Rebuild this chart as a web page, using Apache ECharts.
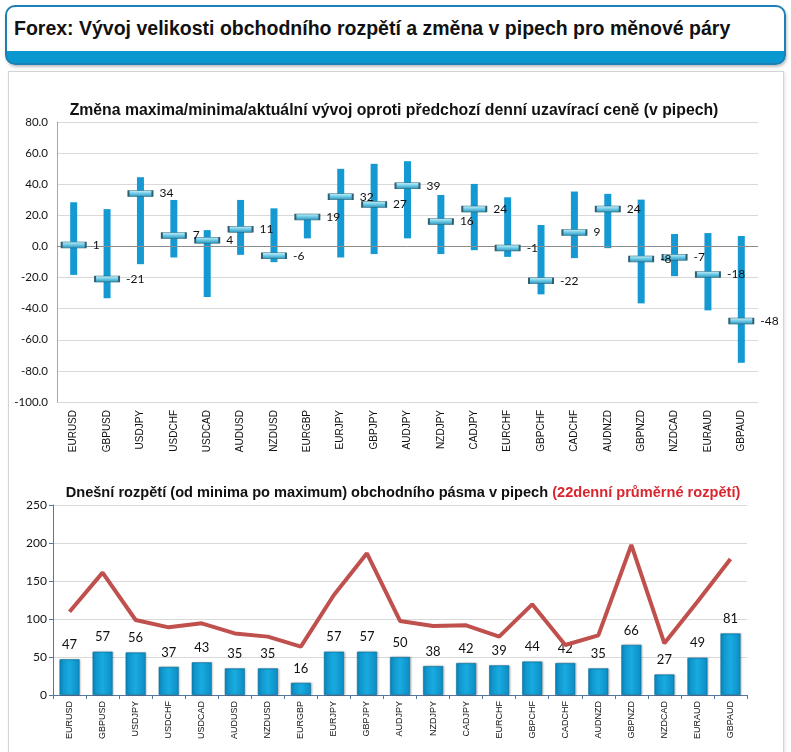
<!DOCTYPE html>
<html>
<head>
<meta charset="utf-8">
<script src="https://cdn.jsdelivr.net/npm/echarts@6/dist/echarts.min.js"></script>
<style>
  html,body{margin:0;padding:0;background:#fff;width:791px;height:752px;overflow:hidden;}
  #header{position:absolute;left:5px;top:5px;width:777px;height:56px;border:2px solid #1c7fb6;border-radius:10px;
    background:linear-gradient(to bottom,#ffffff 0px,#ffffff 44px,#0a98d0 44px,#0a98d0 100%);
    box-shadow:1px 2px 3px rgba(0,0,0,0.25);}
  #header span{position:absolute;left:7px;top:10px;font-family:"Liberation Sans",Arial,sans-serif;font-weight:bold;font-size:19.5px;color:#111;white-space:nowrap;}
  #panel{position:absolute;left:8px;top:71px;width:774px;height:700px;border:1px solid #d4d4d4;box-shadow:1px 1px 3px rgba(0,0,0,0.12);background:#fff;}
  #chart{position:absolute;left:0;top:0;width:791px;height:752px;}
</style>
</head>
<body>
<div id="header"><span>Forex: Vývoj velikosti obchodního rozpětí a změna v pipech pro měnové páry</span></div>
<div id="panel"></div>
<div id="chart"></div>
<script>
const pairs = ['EURUSD','GBPUSD','USDJPY','USDCHF','USDCAD','AUDUSD','NZDUSD','EURGBP','EURJPY','GBPJPY','AUDJPY','NZDJPY','CADJPY','EURCHF','GBPCHF','CADCHF','AUDNZD','GBPNZD','NZDCAD','EURAUD','GBPAUD'];
const dayMax = [28.4, 24, 44.5, 29.9, 10.5, 29.9, 24.5, 20, 49.9, 53.1, 54.8, 33.1, 40.2, 31.6, 13.8, 35.3, 33.8, 30.1, 8, 8.6, 6.7];
const dayMin = [-18.3, -33.3, -11.4, -7.1, -32.5, -5.4, -10.1, 5.2, -7.1, -4.9, 5.2, -4.9, -2.4, -6.7, -30.8, -7.5, -1.1, -36.6, -19.1, -41.1, -74.8];
const current = [1, -21, 34, 7, 4, 11, -6, 19, 32, 27, 39, 16, 24, -1, -22, 9, 24, -8, -7, -18, -48];
const todayRange = [47, 57, 56, 37, 43, 35, 35, 16, 57, 57, 50, 38, 42, 39, 44, 42, 35, 66, 27, 49, 81];
const avgRange22 = [109.6, 161, 98.7, 89, 94.3, 81, 76.8, 63.6, 131.6, 186.4, 97.4, 90.8, 91.7, 76.8, 119.3, 65.8, 78.5, 197.4, 68, 122.8, 179];
const topTicks = {min:-100, max:80, interval:20};
const botTicks = {min:0, max:250, interval:50};

const rangeData = pairs.map((p,i)=>[i, dayMax[i], dayMin[i]]);

const chart = echarts.init(document.getElementById('chart'), null, {renderer:'canvas'});
const lblFont = '"Liberation Sans", Arial, sans-serif';
const numFont = 'Lato, "Liberation Sans", sans-serif';

chart.setOption({
  backgroundColor:'transparent',
  animation:false,
  title:[
    {text:'Změna maxima/minima/aktuální vývoj oproti předchozí denní uzavírací ceně (v pipech)',
     left:389, textAlign:'center', top:98,
     textStyle:{fontFamily:lblFont, fontWeight:'bold', fontSize:15.8, color:'#111'}},
    {text:'{a|Dnešní rozpětí (od minima po maximum) obchodního pásma v pipech }{b|(22denní průměrné rozpětí)}',
     left:398, textAlign:'center', top:480,
     textStyle:{rich:{
       a:{fontFamily:lblFont, fontWeight:'bold', fontSize:14.6, color:'#111'},
       b:{fontFamily:lblFont, fontWeight:'bold', fontSize:14.6, color:'#d9262e'}}}}
  ],
  grid:[
    {left:57, right:33, top:122, height:280},
    {left:53, right:44, top:505, height:190}
  ],
  xAxis:[
    {type:'category', gridIndex:0, data:pairs, boundaryGap:true,
     axisLine:{show:false}, axisTick:{show:false},
     axisLabel:{rotate:90, margin:8, fontFamily:lblFont, fontSize:10, color:'#111', interval:0}},
    {type:'category', gridIndex:1, data:pairs, boundaryGap:true,
     axisLine:{show:true, lineStyle:{color:'#5677a0', width:1}},
     axisTick:{show:true, length:4, lineStyle:{color:'#5677a0'}},
     axisLabel:{rotate:90, margin:6, fontFamily:lblFont, fontSize:9, color:'#111', interval:0}}
  ],
  yAxis:[
    {type:'value', gridIndex:0, min:topTicks.min, max:topTicks.max, interval:topTicks.interval,
     axisLine:{show:true, lineStyle:{color:'#a6a6a6'}}, axisTick:{show:false},
     splitLine:{lineStyle:{color:'#d9d9d9'}},
     axisLabel:{margin:9, fontFamily:numFont, fontSize:11.5, color:'#111', formatter:v=>v.toFixed(1)}},
    {type:'value', gridIndex:1, min:botTicks.min, max:botTicks.max, interval:botTicks.interval,
     axisLine:{show:true, lineStyle:{color:'#5677a0'}}, axisTick:{show:true, length:4, lineStyle:{color:'#5677a0'}},
     splitLine:{lineStyle:{color:'#d9d9d9'}},
     axisLabel:{margin:6, fontFamily:numFont, fontSize:12, color:'#111'}}
  ],
  series:[
    {type:'custom', xAxisIndex:0, yAxisIndex:0, data:rangeData, encode:{x:0, y:[1,2]}, z:3,
     renderItem:function(params, api){
       const a = api.coord([api.value(0), api.value(1)]);
       const b = api.coord([api.value(0), api.value(2)]);
       return {type:'rect', shape:{x:a[0]-3.5, y:a[1], width:7, height:b[1]-a[1]},
               style:{fill:'#1499d2'}};
     },
     markLine:{silent:true, symbol:'none', label:{show:false},
       lineStyle:{color:'#8c8c8c', type:'solid', width:1}, data:[{yAxis:0}]}
    },
    {type:'scatter', xAxisIndex:0, yAxisIndex:0, data:current, z:5,
     symbol:'rect', symbolSize:[24,6],
     itemStyle:{color:new echarts.graphic.LinearGradient(0,0,0,1,[{offset:0,color:'#c8f2fb'},{offset:0.5,color:'#6cc9e6'},{offset:1,color:'#2a8fb4'}]),
                borderColor:'#2d5f70', borderWidth:1, opacity:1},
     label:{show:true, position:'right', distance:6, fontFamily:numFont, fontSize:12, color:'#111',
            formatter:p=>String(p.value)}},
    {type:'bar', xAxisIndex:1, yAxisIndex:1, data:todayRange, barWidth:20, z:2,
     itemStyle:{color:new echarts.graphic.LinearGradient(0,0,1,0,[{offset:0,color:'#0b8cc4'},{offset:0.5,color:'#19abe0'},{offset:1,color:'#0b8cc4'}]),
                borderColor:'#0a6f9a', borderWidth:0.6,
                shadowColor:'rgba(0,0,0,0.25)', shadowBlur:2, shadowOffsetX:1, shadowOffsetY:0},
     label:{show:true, position:'top', distance:8, fontFamily:numFont, fontSize:13, color:'#111'}},
    {type:'line', xAxisIndex:1, yAxisIndex:1, data:avgRange22, z:4, symbol:'none',
     lineStyle:{color:'#c0504d', width:4}}
  ]
});
</script>
</body>
</html>
